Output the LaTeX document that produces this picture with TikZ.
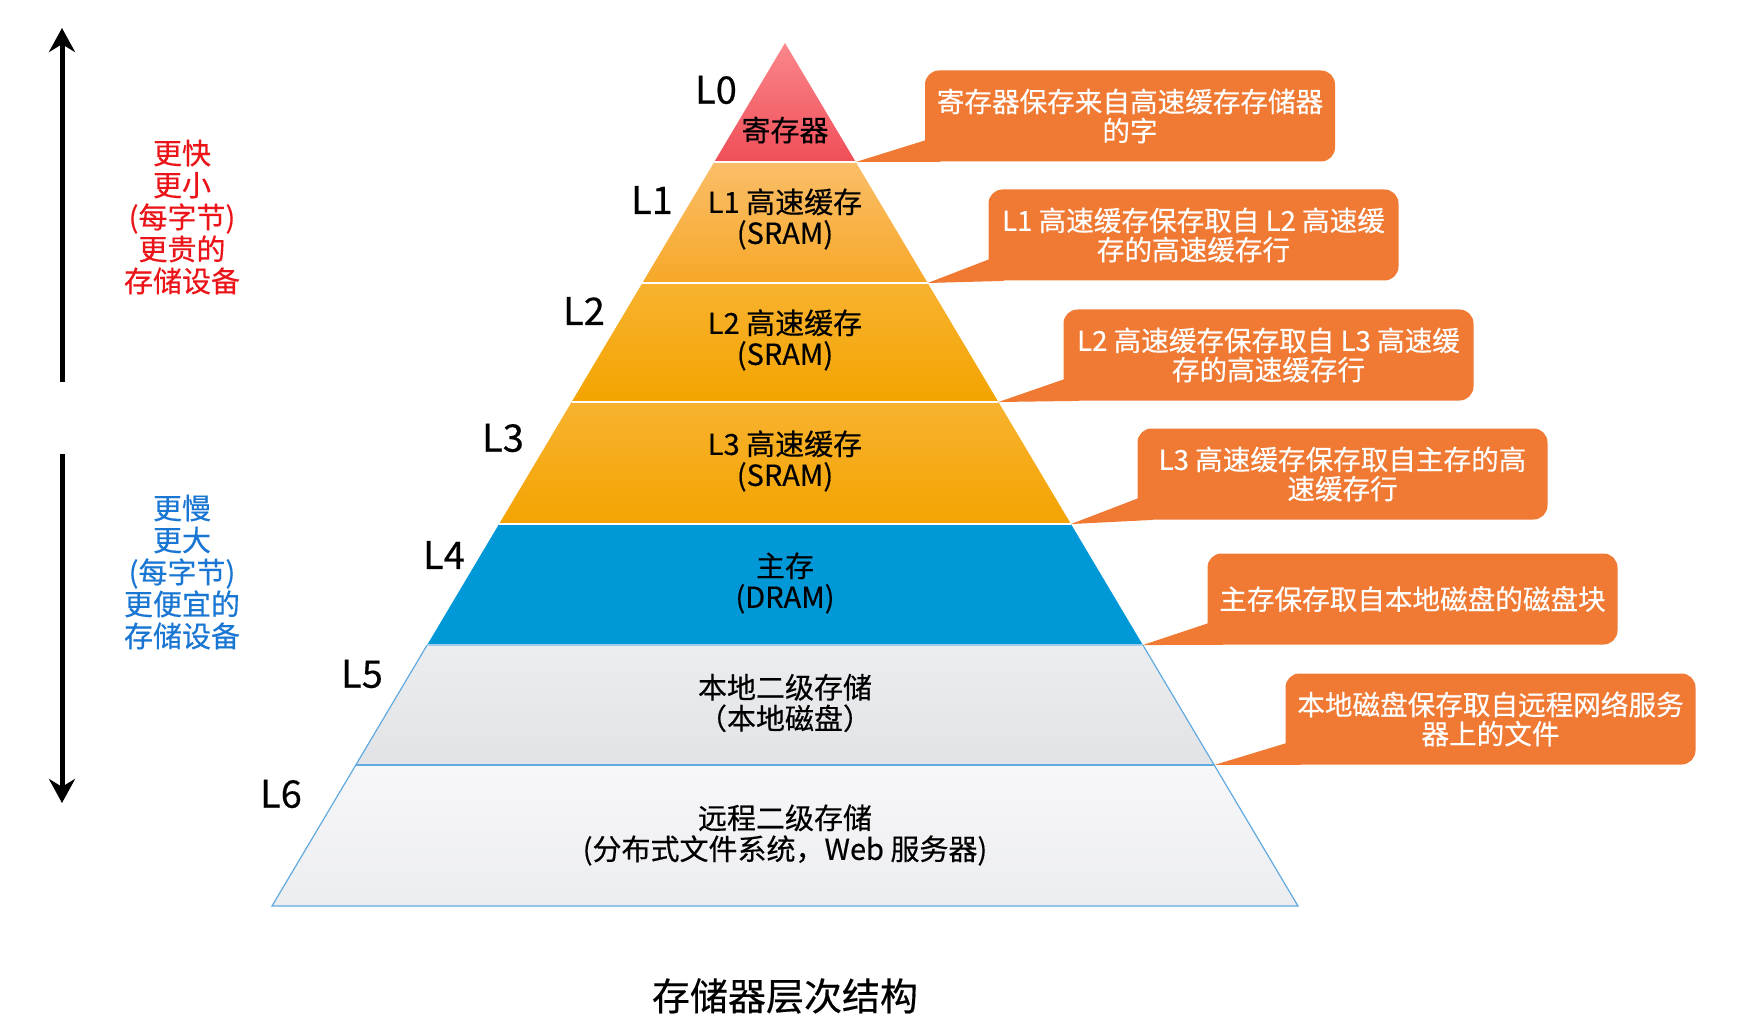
\documentclass[tikz,border=0pt]{standalone}
\usepackage{fontspec}
\setmainfont{Noto Sans CJK SC}[FakeBold=0.4]
\usetikzlibrary{
  arrows.meta,
  calc,
  positioning
}
\definecolor{calloutorange}{RGB}{240,122,52}
\definecolor{lzerotop}{RGB}{250,135,140}
\definecolor{lzerobot}{RGB}{240,78,88}
\definecolor{lonetop}{RGB}{250,190,105}
\definecolor{lonebot}{RGB}{247,168,40}
\definecolor{cachetop}{RGB}{248,178,48}
\definecolor{cachebot}{RGB}{243,164,0}
\definecolor{dramblue}{RGB}{0,152,214}
\definecolor{disktop}{RGB}{236,237,239}
\definecolor{diskbot}{RGB}{226,227,230}
\definecolor{remotetop}{RGB}{247,247,249}
\definecolor{remotebot}{RGB}{236,237,240}
\definecolor{edgeblue}{RGB}{95,170,225}
\definecolor{fastred}{RGB}{235,20,25}
\definecolor{slowblue}{RGB}{25,118,210}

\begin{document}
\begin{tikzpicture}[x=0.5pt,y=-0.5pt,>={Stealth[length=12pt,width=13pt]},
  lvl/.style={font=\fontsize{19}{20}\selectfont},
  layertext/.style={align=center,font=\fontsize{14.5}{15.5}\selectfont},
  sidetext/.style={align=center,font=\fontsize{14.5}{16}\selectfont},
  callout/.style={fill=calloutorange,text=white,rounded corners=7pt,
    minimum width=205pt,minimum height=45.5pt,align=center,inner sep=2pt,
    font=\fontsize{13.8}{14.6}\selectfont}]
  \useasboundingbox (0,0) rectangle (1762,1027);
  \coordinate (apex) at (785,43);
  \coordinate (bl) at (272,906);
  \coordinate (br) at (1298,906);
  \foreach \i/\t in {1/0.1379,2/0.2781,3/0.4160,4/0.5574,5/0.6976,6/0.8366}{
    \coordinate (l\i) at ($(apex)!\t!(bl)$);
    \coordinate (r\i) at ($(apex)!\t!(br)$);
  }
  \shade[top color=lzerotop,bottom color=lzerobot] (apex) -- (r1) -- (l1) -- cycle;
  \shade[top color=lonetop,bottom color=lonebot] (l1) -- (r1) -- (r2) -- (l2) -- cycle;
  \shade[top color=cachetop,bottom color=cachebot] (l2) -- (r2) -- (r3) -- (l3) -- cycle;
  \shade[top color=cachetop,bottom color=cachebot] (l3) -- (r3) -- (r4) -- (l4) -- cycle;
  \fill[dramblue] (l4) -- (r4) -- (r5) -- (l5) -- cycle;
  \shade[top color=disktop,bottom color=diskbot] (l5) -- (r5) -- (r6) -- (l6) -- cycle;
  \shade[top color=remotetop,bottom color=remotebot] (l6) -- (r6) -- (br) -- (bl) -- cycle;
  \foreach \i in {1,2,3,4}
    \draw[white,line width=0.8pt] (l\i) -- (r\i);
  \draw[edgeblue,line width=0.6pt] (l5) -- (bl) -- (br) -- (r5);
  \draw[edgeblue!60,line width=0.8pt] (l5) -- (r5);
  \draw[edgeblue,line width=1.4pt] (l6) -- (r6);

  \node[layertext] (t0) at (785,130) {寄存器};
  \node[layertext] (t1) at (785,219) {L1 高速缓存\\(SRAM)};
  \node[layertext] (t2) at (785,340) {L2 高速缓存\\(SRAM)};
  \node[layertext] (t3) at (785,461) {L3 高速缓存\\(SRAM)};
  \node[layertext] (t4) at (785,583) {主存\\(DRAM)};
  \node[layertext] (t5) at (785,703) {本地二级存储\\（本地磁盘）};
  \node[layertext] (t6) at (785,835) {远程二级存储\\(分布式文件系统，Web 服务器)};

  \foreach \i/\px/\py in {0/716/90,1/652/200,2/584/311,3/503/438,4/444/555,5/362/674,6/281/794}
    \node[lvl] (L\i) at (\px,\py) {L\i};

  \node[callout] (c1) at (1130,116)   {寄存器保存来自高速缓存存储器\\的字};
  \node[callout] (c2) at (1193.5,235) {L1 高速缓存保存取自 L2 高速缓\\存的高速缓存行};
  \node[callout] (c3) at (1268.5,355) {L2 高速缓存保存取自 L3 高速缓\\存的高速缓存行};
  \node[callout] (c4) at (1342.5,474) {L3 高速缓存保存取自主存的高\\速缓存行};
  \node[callout] (c5) at (1412.5,599) {主存保存取自本地磁盘的磁盘块};
  \node[callout] (c6) at (1490.5,719) {本地磁盘保存取自远程网络服务\\器上的文件};
  \foreach \i in {1,...,6}
    \fill[calloutorange] ($(c\i.south west)+(2,-22)$) -- (r\i) -- ($(c\i.south west)+(16,0)$) -- cycle;

  \coordinate (uptop) at (62,28);
  \coordinate (upbot) at (62,382);
  \coordinate (dntop) at (62,454);
  \coordinate (dnbot) at (62,803);
  \draw[->,line width=2.5pt] (upbot) -- (uptop);
  \draw[->,line width=2.5pt] (dntop) -- (dnbot);
  \node[sidetext,text=fastred] (fast) at (182,217) {更快\\更小\\(每字节)\\更贵的\\存储设备};
  \node[sidetext,text=slowblue] (slow) at (182,572) {更慢\\更大\\(每字节)\\更便宜的\\存储设备};

  \node[font=\fontsize{19}{20}\selectfont] (title) at (785,996) {存储器层次结构};
\end{tikzpicture}
\end{document}
